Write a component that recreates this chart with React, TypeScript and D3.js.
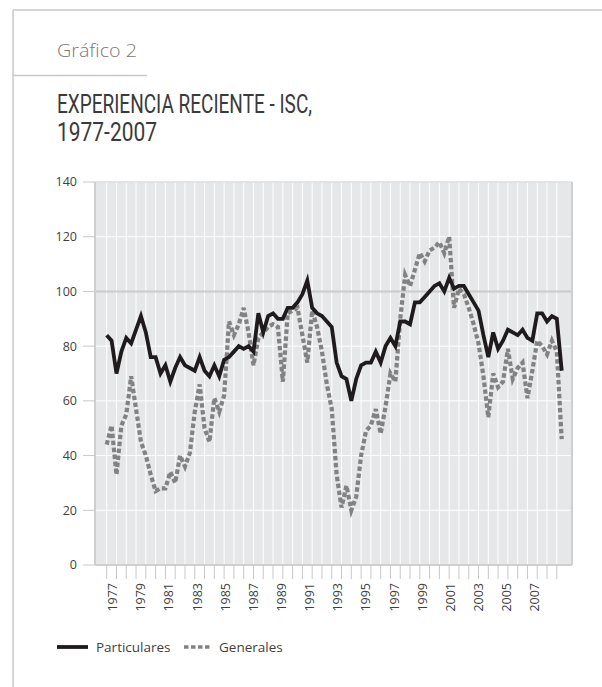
import React from "react";
import * as d3 from "d3";

// Periods: three per year, 1977 to 2008 (one value per point)
const particulares = [
  84, 82, 70, 78, 83, 81, 86, 91, 85, 76,
  76, 70, 73, 67, 72, 76, 73, 72, 71, 76,
  71, 69, 73, 69, 75, 76, 78, 80, 79, 80,
  78, 92, 85, 91, 92, 90, 90, 94, 94, 96,
  99, 104, 94, 92, 91, 89, 87, 74, 69, 68,
  60, 68, 73, 74, 74, 78, 74, 80, 83, 80,
  89, 89, 88, 96, 96, 98, 100, 102, 103, 100,
  105, 101, 102, 102, 99, 96, 93, 84, 76, 85,
  79, 82, 86, 85, 84, 86, 83, 82, 92, 92,
  89, 91, 90, 71,
];

const generales = [
  44, 51, 33, 51, 55, 69, 57, 45, 40, 33,
  27, 28, 28, 34, 30, 40, 36, 41, 56, 66,
  50, 45, 61, 56, 62, 89, 84, 88, 94, 85,
  73, 83, 85, 87, 88, 87, 67, 92, 93, 94,
  84, 74, 93, 87, 78, 66, 57, 33, 21, 29,
  20, 25, 40, 49, 51, 57, 48, 58, 70, 67,
  90, 106, 102, 108, 114, 111, 115, 116, 118, 114,
  120, 94, 101, 99, 94, 88, 81, 69, 54, 70,
  65, 67, 79, 68, 72, 74, 61, 71, 82, 80,
  77, 82, 78, 46,
];

const yearLabels = [
  1977, 1979, 1981, 1983, 1985, 1987, 1989, 1991,
  1993, 1995, 1997, 1999, 2001, 2003, 2005, 2007,
];
const yTicks = [0, 20, 40, 60, 80, 100, 120, 140];

const FONT = "'Open Sans', 'Noto Sans', sans-serif";
const TITLE_FONT = "'Roboto', 'Liberation Sans', sans-serif";
const TEXT = "#3f3f3f";

const App = () => {
  const left = 95;
  const right = 572;
  const top = 182;
  const bottom = 565;

  const x = d3
    .scaleLinear()
    .domain([0, particulares.length - 1])
    .range([106.7, 561.7]);
  const y = d3.scaleLinear().domain([0, 140]).range([bottom, top]);
  // year labels sit on their own spacing in the original
  const xYear = d3.scaleLinear().domain([1977, 2007]).range([112.7, 535]);

  const xTicks = d3.range(0, particulares.length - 1, 2);

  const line = d3
    .line<number>()
    .x((d, i) => x(i))
    .y(d => y(d));

  return (
    <svg
      width={602}
      height={687}
      style={{ position: "absolute", left: 0, top: 0, background: "#fff" }}
    >
      {/* frame */}
      <line x1={13} x2={602} y1={10} y2={10} stroke="#c8c8c8" strokeWidth={1.5} />
      <line x1={13} x2={13} y1={10} y2={687} stroke="#c8c8c8" strokeWidth={1.5} />
      <line x1={13} x2={147} y1={75.5} y2={75.5} stroke="#c8c8c8" strokeWidth={1.5} />

      <text
        x={57}
        y={57}
        fontFamily={FONT}
        fontSize={18.5}
        fill="#777"
        fontWeight={300}
        textLength={80}
        lengthAdjust="spacingAndGlyphs"
      >
        Gráfico 2
      </text>
      <text
        x={57}
        y={113}
        fontFamily={TITLE_FONT}
        fontSize={25}
        fill="#3a3a3a"
        textLength={255}
        lengthAdjust="spacingAndGlyphs"
      >
        EXPERIENCIA RECIENTE - ISC,
      </text>
      <text
        x={57}
        y={141}
        fontFamily={TITLE_FONT}
        fontSize={25}
        fill="#3a3a3a"
        textLength={100}
        lengthAdjust="spacingAndGlyphs"
      >
        1977-2007
      </text>

      {/* plot area */}
      <rect x={left} y={top} width={right - left} height={bottom - top} fill="#e6e7e8" />
      {xTicks.map(t => (
        <line key={"gx" + t} x1={x(t)} x2={x(t)} y1={top} y2={bottom} stroke="#fff" strokeWidth={1} />
      ))}
      {yTicks.map(t => (
        <line
          key={"gy" + t}
          x1={left}
          x2={right}
          y1={y(t)}
          y2={y(t)}
          stroke={t === 100 ? "#cbcbcb" : "#fff"}
          strokeWidth={t === 100 ? 2 : 1}
        />
      ))}
      <line x1={left} x2={right} y1={top} y2={top} stroke="#dcdcdc" strokeWidth={1.5} />
      <line x1={right} x2={right} y1={top} y2={bottom} stroke="#cfcfcf" strokeWidth={2} />
      <line x1={left} x2={left} y1={top} y2={bottom} stroke="#cfcfcf" strokeWidth={2} />
      <line x1={left} x2={right} y1={bottom} y2={bottom} stroke="#cfcfcf" strokeWidth={2} />

      {/* y axis */}
      {yTicks.map(t => (
        <g key={"yt" + t}>
          <line x1={83} x2={left} y1={y(t)} y2={y(t)} stroke="#c8c8c8" strokeWidth={1} />
          <text
            x={77}
            y={y(t)}
            dy="0.35em"
            textAnchor="end"
            fontFamily={FONT}
            fontSize={12.5}
            fill={TEXT}
          >
            {t}
          </text>
        </g>
      ))}

      {/* x axis */}
      {xTicks.map(t => (
        <line key={"xt" + t} x1={x(t)} x2={x(t)} y1={bottom} y2={579} stroke="#c8c8c8" strokeWidth={1} />
      ))}
      {yearLabels.map(yr => (
        <text
          key={"yl" + yr}
          transform={`translate(${xYear(yr)},583) rotate(-90)`}
          dy="0.35em"
          textAnchor="end"
          fontFamily={FONT}
          fontSize={12.5}
          fill={TEXT}
        >
          {yr}
        </text>
      ))}

      {/* series */}
      <path
        d={line(generales) || ""}
        fill="none"
        stroke="#828282"
        strokeWidth={4.2}
        strokeDasharray="4.5 2.5"
      />
      <path
        d={line(particulares) || ""}
        fill="none"
        stroke="#1f1b1c"
        strokeWidth={3.8}
        strokeLinejoin="miter"
      />

      {/* legend */}
      <line x1={57} x2={88} y1={647} y2={647} stroke="#1f1b1c" strokeWidth={3.8} />
      <text x={96} y={647} dy="0.35em" fontFamily={FONT} fontSize={13.5} fill={TEXT}>
        Particulares
      </text>
      <line
        x1={184}
        x2={210}
        y1={647}
        y2={647}
        stroke="#828282"
        strokeWidth={3.5}
        strokeDasharray="4.5 2.5"
      />
      <text x={219} y={647} dy="0.35em" fontFamily={FONT} fontSize={13.5} fill={TEXT}>
        Generales
      </text>
    </svg>
  );
};

export default App;
